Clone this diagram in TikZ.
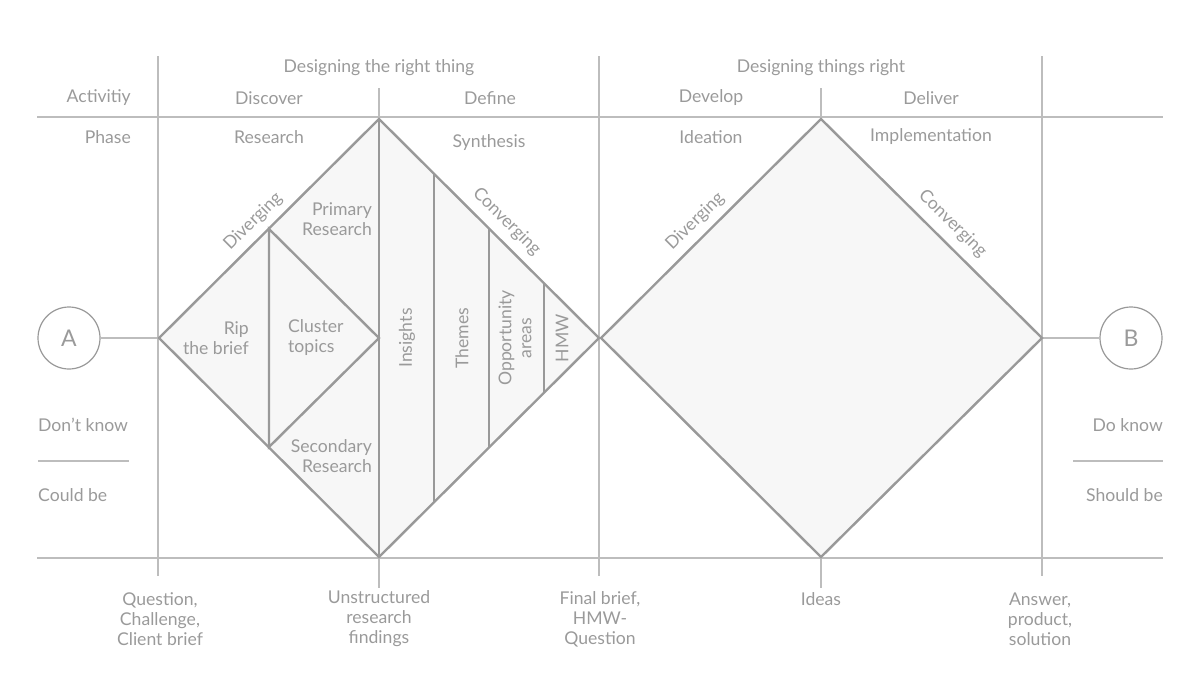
\documentclass[tikz,border=0pt]{standalone}
\usepackage{fontspec}
\setmainfont{Lato}
\usetikzlibrary{positioning}
\definecolor{txtgray}{HTML}{9A9A9A}
\definecolor{gridgray}{HTML}{BDBDBD}
\definecolor{edgegray}{HTML}{999999}
\definecolor{fillgray}{HTML}{F7F7F7}

\begin{document}
\begin{tikzpicture}[x=1pt,y=-1pt,
  gridline/.style={draw=gridgray,line width=1.2pt},
  edgeline/.style={draw=edgegray,line width=2.4pt,line join=miter},
  lbl/.style={text=txtgray,font=\fontsize{17.6}{20}\selectfont,align=center,inner sep=0pt},
  endpoint/.style={circle,draw=edgegray,line width=1.2pt,minimum size=62pt,inner sep=0pt,text=txtgray,font=\fontsize{23}{24}\selectfont}]
   \useasboundingbox (0,0) rectangle (1200,675);
   % corners of the two diamonds
   \coordinate (d1_l) at (159,338);
   \coordinate (d1_t) at (379,119);
   \coordinate (d1_r) at (599,338);
   \coordinate (d1_b) at (379,557);
   \coordinate (d2_l) at (601,338);
   \coordinate (d2_t) at (821,119);
   \coordinate (d2_r) at (1042,338);
   \coordinate (d2_b) at (821,557);
   % grid
   \draw[gridline] (37,117) -- (1163,117);
   \draw[gridline] (37,558) -- (1163,558);
   \foreach \x in {158,599,1042}
      \draw[gridline] (\x,56) -- (\x,576);
   \foreach \x in {379,821}
      \draw[gridline] (\x,88) -- (\x,588);
   \draw[gridline] (38,461) -- (129,461);
   \draw[gridline] (1073,461) -- (1163,461);
   % start and end
   \node[endpoint] (A) at (69,338) {A};
   \node[endpoint] (B) at (1131,338) {B};
   \draw[gridline] (A) -- (d1_l);
   \draw[gridline] (d2_r) -- (B);
   % diamonds
   \draw[edgeline,fill=fillgray] (d1_l) -- (d1_t) -- (d1_r) -- (d1_b) -- cycle;
   \draw[edgeline,fill=fillgray] (d2_l) -- (d2_t) -- (d2_r) -- (d2_b) -- cycle;
   \draw[edgeline] (269,229) -- (379,338) -- (269,447) -- cycle;
   \draw[edgeline] (d1_t) -- (d1_b);
   \draw[edgeline] (434,174) -- (434,502);
   \draw[edgeline] (489,229) -- (489,447);
   \draw[edgeline] (544,284) -- (544,392);
   \path (d1_l) -- (d1_t) node[lbl,pos=0.48,sloped,above=8pt] {Diverging};
   \path (d1_t) -- (d1_r) node[lbl,pos=0.525,sloped,above=9pt] {Converging};
   \path (d2_l) -- (d2_t) node[lbl,pos=0.48,sloped,above=8pt] {Diverging};
   \path (d2_t) -- (d2_r) node[lbl,pos=0.537,sloped,above=10pt] {Converging};
   % header
   \node[lbl] (right_thing) at (379,68) {Designing the right thing};
   \node[lbl] (things_right) at (821,68) {Designing things right};
   \node[lbl,anchor=east] (activity) at (131,98) {Activitiy};
   \node[lbl,anchor=east] (phase) at (131,137) {Phase};
   \node[lbl] (discover) at (269,98) {Discover};
   \node[lbl] (define) at (490,98) {Define};
   \node[lbl] (develop) at (711,98) {Develop};
   \node[lbl] (deliver) at (931,98) {Deliver};
   \node[lbl] (research) at (269,137) {Research};
   \node[lbl] (synthesis) at (489,143) {Synthesis};
   \node[lbl] (ideation) at (711,137) {Ideation};
   \node[lbl] (implement) at (931,137) {Implementation};
   % inside the first diamond
   \node[lbl,align=right,anchor=east] (primary) at (372,219) {Primary\\Research};
   \node[lbl,align=right,anchor=east] (rip) at (249,338) {Rip\\the brief};
   \node[lbl,align=left,anchor=west] (cluster) at (288,338) {Cluster\\topics};
   \node[lbl,align=right,anchor=east] (secondary) at (372,456) {Secondary\\Research};
   \node[lbl,rotate=90] (insights) at (407,338) {Insights};
   \node[lbl,rotate=90] (themes) at (462,338) {Themes};
   \node[lbl,rotate=90] (opportunity) at (515,338) {Opportunity\\areas};
   \node[lbl,rotate=90] (hmw) at (562,338) {HMW};
   % sides
   \node[lbl,anchor=west] (dont_know) at (38,425) {Don't know};
   \node[lbl,anchor=west] (could_be) at (38,495) {Could be};
   \node[lbl,anchor=east] (do_know) at (1163,425) {Do know};
   \node[lbl,anchor=east] (should_be) at (1163,495) {Should be};
   % bottom
   \node[lbl] (question) at (160,619) {Question,\\Challenge,\\Client brief};
   \node[lbl] (findings) at (379,619) {Unstructured\\research\\findings};
   \node[lbl] (final_brief) at (600,619) {Final brief,\\HMW-\\Question};
   \node[lbl] (ideas) at (821,599) {Ideas};
   \node[lbl] (answer) at (1040,619) {Answer,\\product,\\solution};
\end{tikzpicture}
\end{document}
